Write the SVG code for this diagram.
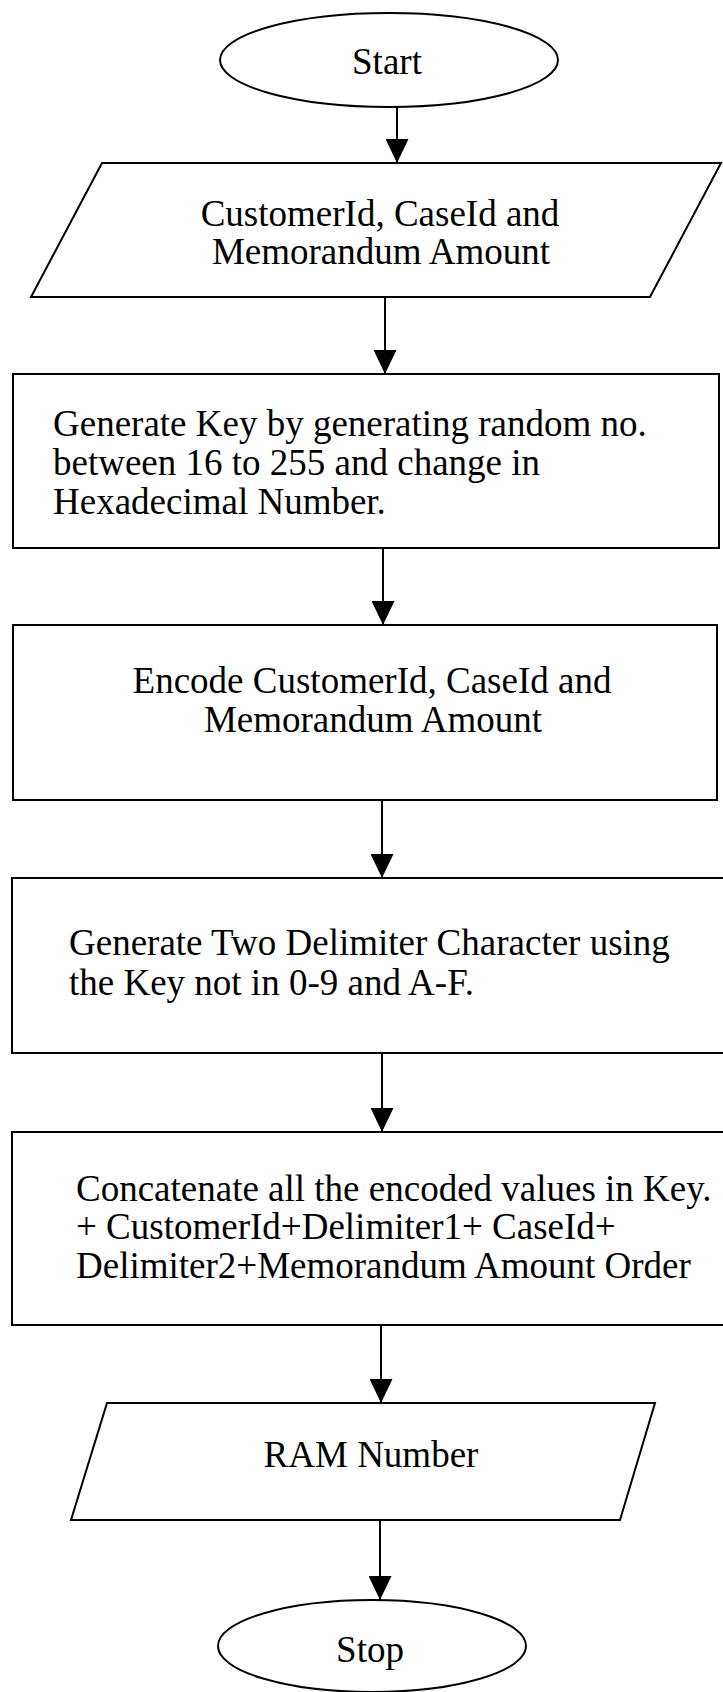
<svg xmlns="http://www.w3.org/2000/svg" width="723" height="1692" viewBox="0 0 723 1692">
  <style>
    .shape { fill: #ffffff; stroke: #000000; stroke-width: 2; }
    .label { font-family: "Liberation Serif", "Times New Roman", serif; font-size: 37px; fill: #000000; }
    .mid { text-anchor: middle; }
    .flow { stroke: #000000; stroke-width: 2; fill: none; marker-end: url(#head); }
  </style>
  <defs>
    <marker id="head" viewBox="0 0 24 23" markerWidth="24" markerHeight="23" refX="24" refY="11.5" orient="auto" markerUnits="userSpaceOnUse">
      <path d="M0,0 L24,11.5 L0,23 z" fill="#000000"/>
    </marker>
  </defs>
  <rect width="723" height="1692" fill="#ffffff"/>

  <!-- connectors -->
  <g id="connectors">
    <line class="flow" x1="397" y1="107" x2="397" y2="163"/>
    <line class="flow" x1="385" y1="297" x2="385" y2="374"/>
    <line class="flow" x1="383" y1="548" x2="383" y2="625"/>
    <line class="flow" x1="382" y1="800" x2="382" y2="878"/>
    <line class="flow" x1="382" y1="1053" x2="382" y2="1132"/>
    <line class="flow" x1="381" y1="1325" x2="381" y2="1403"/>
    <line class="flow" x1="380" y1="1520" x2="380" y2="1600"/>
  </g>

  <!-- terminal: start -->
  <g id="start">
    <ellipse class="shape" cx="389" cy="60" rx="169" ry="47"/>
    <text class="label mid" x="387" y="74">Start</text>
  </g>

  <!-- input -->
  <g id="input">
    <polygon class="shape" points="102,163 721,163 650,297 31,297"/>
    <text class="label mid" x="380" y="226">CustomerId, CaseId and</text>
    <text class="label mid" x="381" y="264">Memorandum Amount</text>
  </g>

  <!-- key generation -->
  <g id="generate-key">
    <rect class="shape" x="13" y="374" width="706" height="174"/>
    <text class="label" x="53" y="436">Generate Key by generating random no.</text>
    <text class="label" x="53" y="475">between 16 to 255 and change in</text>
    <text class="label" x="53" y="514">Hexadecimal Number.</text>
  </g>

  <!-- encoding -->
  <g id="encode">
    <rect class="shape" x="13" y="625" width="704" height="175"/>
    <text class="label mid" x="372" y="693">Encode CustomerId, CaseId and</text>
    <text class="label mid" x="373" y="732">Memorandum Amount</text>
  </g>

  <!-- delimiters -->
  <g id="delimiters">
    <rect class="shape" x="12" y="878" width="716" height="175"/>
    <text class="label" x="69" y="955">Generate Two Delimiter Character using</text>
    <text class="label" x="69" y="995">the Key not in 0-9 and A-F.</text>
  </g>

  <!-- concatenation -->
  <g id="concatenate">
    <rect class="shape" x="12" y="1132" width="716" height="193"/>
    <text class="label" x="76" y="1201">Concatenate all the encoded values in Key.</text>
    <text class="label" x="76" y="1239">+ CustomerId+Delimiter1+ CaseId+</text>
    <text class="label" x="76" y="1278">Delimiter2+Memorandum Amount Order</text>
  </g>

  <!-- output -->
  <g id="output">
    <polygon class="shape" points="107,1403 655,1403 620,1520 71,1520"/>
    <text class="label mid" x="371" y="1467">RAM Number</text>
  </g>

  <!-- terminal: stop -->
  <g id="stop">
    <ellipse class="shape" cx="372" cy="1646" rx="154" ry="46"/>
    <text class="label mid" x="370" y="1662">Stop</text>
  </g>
</svg>
